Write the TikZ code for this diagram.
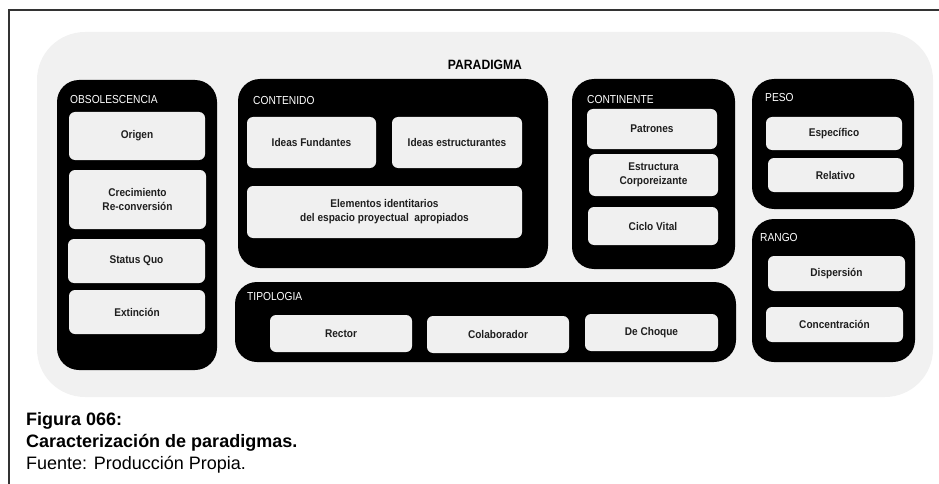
\documentclass[tikz,border=0pt]{standalone}
\usepackage{fontspec}
\setmainfont{Liberation Sans}
\newfontfamily\nfont[FakeStretch=0.9]{Liberation Sans}
\newfontfamily\lfont[FakeStretch=0.88]{Liberation Sans}
\definecolor{bggray}{HTML}{F1F1F1}
\definecolor{itemgray}{HTML}{F0F0F0}
\definecolor{textdark}{HTML}{1E1E1E}
\definecolor{framegray}{HTML}{333333}
\begin{document}
\begin{tikzpicture}[x=1pt,y=-1pt,
  panel/.style={fill=black, rounded corners=22pt, inner sep=0pt},
  item/.style={fill=itemgray, rounded corners=6pt, inner sep=0pt, align=center,
    text=textdark, font=\nfont\bfseries\fontsize{11.2}{14}\selectfont},
  lab/.style={anchor=west, inner sep=0pt, text=white,
    font=\lfont\fontsize{11.6}{13}\selectfont},
  captext/.style={anchor=base west, inner sep=0pt, text=black,
    font=\fontsize{18}{21}\selectfont}]
\useasboundingbox (0,0) rectangle (939,484);
% outer frame
\coordinate (ftr) at (939,10);
\coordinate (ftl) at (9,10);
\coordinate (fbl) at (9,484);
\draw[framegray, line width=1.5pt] (ftr) -- (ftl) -- (fbl);
% background
\node[fill=bggray, rounded corners=48pt, inner sep=0pt, minimum width=896pt, minimum height=365pt] (bg) at (485,214.5) {};
\node[inner sep=0pt, font=\nfont\bfseries\fontsize{13.5}{15}\selectfont] (par) at (485,65) {PARADIGMA};
% panels
\node[panel, minimum width=160pt, minimum height=290pt] (obs) at (137,225) {};
\node[panel, minimum width=310pt, minimum height=189pt] (cont) at (393,173.5) {};
\node[panel, minimum width=163pt, minimum height=190pt] (contin) at (653.5,174) {};
\node[panel, minimum width=162pt, minimum height=130pt] (peso) at (833,144) {};
\node[panel, minimum width=163pt, minimum height=143pt] (rango) at (833.5,290.5) {};
\node[panel, minimum width=501pt, minimum height=80pt] (tipo) at (485.5,322) {};
% labels
\node[lab] (lobs) at (70,100) {OBSOLESCENCIA};
\node[lab] (lcont) at (253,101) {CONTENIDO};
\node[lab] (lcontin) at (587,100) {CONTINENTE};
\node[lab] (lpeso) at (765,98) {PESO};
\node[lab] (lrango) at (760,238) {RANGO};
\node[lab] (ltipo) at (247,297) {TIPOLOGIA};
% obsolescencia items
\node[item, minimum width=136pt, minimum height=48pt] (origen) at (137,136) {Origen};
\node[item, minimum width=137pt, minimum height=59pt] (crec) at (137.5,199.5) {Crecimiento\\Re-conversión};
\node[item, minimum width=137pt, minimum height=44pt] (status) at (136.5,261) {Status Quo};
\node[item, minimum width=136pt, minimum height=44pt] (ext) at (137,312) {Extinción};
% contenido items
\node[item, minimum width=129pt, minimum height=51pt] (ifund) at (311.5,142.5) {Ideas Fundantes};
\node[item, minimum width=130pt, minimum height=51pt] (iestr) at (457,142.5) {Ideas estructurantes};
\node[item, minimum width=275pt, minimum height=52pt] (elem) at (384.5,212) {Elementos identitarios\\del espacio proyectual\ \ apropiados};
% continente items
\node[item, minimum width=130pt, minimum height=40pt] (patr) at (652,129) {Patrones};
\node[item, minimum width=129pt, minimum height=42pt] (estr) at (653.5,175) {Estructura\\Corporeizante};
\node[item, minimum width=130pt, minimum height=38pt] (ciclo) at (653,226) {Ciclo Vital};
% peso items
\node[item, minimum width=136pt, minimum height=33pt] (espec) at (834,133.5) {Específico};
\node[item, minimum width=135pt, minimum height=34pt] (relat) at (835.5,175) {Relativo};
% rango items
\node[item, minimum width=137pt, minimum height=35pt] (disp) at (836.5,273.5) {Dispersión};
\node[item, minimum width=137pt, minimum height=35pt] (conc) at (834.5,324.5) {Concentración};
% tipologia items
\node[item, minimum width=142pt, minimum height=37pt] (rector) at (341,333.5) {Rector};
\node[item, minimum width=142pt, minimum height=37pt] (colab) at (498,334.5) {Colaborador};
\node[item, minimum width=133pt, minimum height=37pt] (choque) at (651.5,332.5) {De Choque};
% caption
\node[captext, font=\bfseries\fontsize{18}{21}\selectfont] (cap1) at (26,425) {Figura 066:};
\node[captext, font=\bfseries\fontsize{18}{21}\selectfont] (cap2) at (26,447) {Caracterización de paradigmas.};
\node[captext] (cap3) at (26,469) {Fuente: Producción Propia.};
\end{tikzpicture}
\end{document}
